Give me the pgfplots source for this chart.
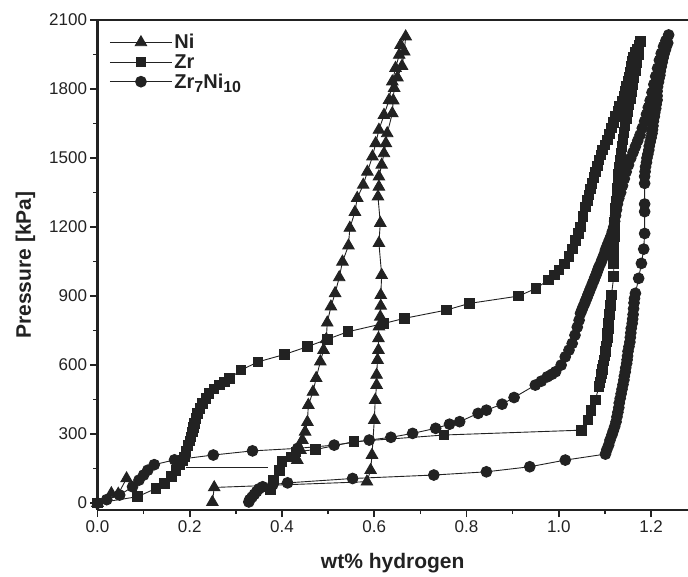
\documentclass[border=0pt]{standalone}
\usepackage{fontspec}
\setmainfont{Liberation Sans}
\usepackage{pgfplots}
\pgfplotsset{compat=1.18}
\definecolor{ink}{HTML}{222222}
\begin{document}
\begin{tikzpicture}
\begin{axis}[
  scale only axis, width=590.5pt, height=490pt,
  xmin=0, xmax=1.28, ymin=-30, ymax=2100,
  axis x line*=box, axis y line*=left,
  axis line style={line width=2.2pt, color=ink},
  xtick={0,0.2,0.4,0.6,0.8,1.0,1.2},
  ytick={0,300,600,900,1200,1500,1800,2100},
  minor x tick num=1, minor y tick num=1,
  xtick pos=bottom, ytick pos=left,
  tick align=outside,
  major tick length=7pt, minor tick length=4pt,
  every tick/.style={line width=1.6pt, color=ink},
  xticklabel style={/pgf/number format/.cd, fixed, fixed zerofill, precision=1},
  yticklabel style={/pgf/number format/.cd, fixed, 1000 sep={}},
  /pgf/number format/assume math mode=true,
  ticklabel style={font=\fontsize{17}{20}\selectfont, color=ink},
  xlabel={wt\% hydrogen}, ylabel={Pressure [kPa]},
  label style={font=\fontsize{21}{24}\selectfont\bfseries, color=ink},
  x label style={at={(axis description cs:0.5,-0.108)}, anchor=center},
  y label style={at={(axis description cs:-0.122,0.5)}, anchor=center},
  legend style={draw=none, fill=none, at={(axis description cs:0.02,0.975)}, anchor=north west,
    font=\fontsize{20}{22}\selectfont\bfseries, row sep=0pt, inner sep=0pt, text=ink},
  legend cell align=left,
  legend image code/.code={\draw[mark repeat=2,mark phase=2,#1] plot coordinates {(0pt,0pt) (31pt,0pt) (62pt,0pt)};},
  unbounded coords=jump,
  clip=false,
]
\coordinate (O) at (rel axis cs:0,0);
% Ni
\addplot[color=ink, line width=0.9pt, mark=triangle*, mark size=6.6pt, mark options={solid, fill=ink, draw=ink}] coordinates {
(0,0) (0.03,42) (0.045,40) (0.063,107) (nan,nan)
(0.433,187) (0.44,230) (0.444,274) (0.45,310) (0.455,352) (0.457,426) (0.467,483) (0.474,543)
(0.483,615) (0.49,665) (0.496,712) (0.498,784) (0.506,854) (0.515,912) (0.524,981) (0.531,1049)
(0.544,1119) (0.547,1196) (0.558,1265) (0.563,1326) (0.576,1383) (0.585,1440) (0.596,1506)
(0.603,1564) (0.610,1622) (0.621,1687) (0.632,1752) (0.639,1832) (0.646,1891) (0.654,1948)
(0.657,1991) (0.668,2028)
(0.665,1962) (0.660,1900) (0.650,1850) (0.643,1804) (0.641,1750) (0.639,1694) (0.628,1607)
(0.625,1564) (0.621,1520) (0.616,1470) (0.610,1419) (0.610,1375) (0.608,1332) (0.613,1217)
(0.610,1130) (0.616,991) (0.614,904) (0.614,857) (0.613,810) (0.610,767) (0.609,716)
(0.609,665) (0.607,622) (0.605,557) (0.605,513) (0.602,448) (0.600,361) (0.595,209)
(0.592,143) (0.584,93) (0.253,68) (0.249,4)
};
\addlegendentry{Ni}
% Zr
\addplot[color=ink, line width=0.9pt, mark=square*, mark size=4.8pt, mark options={solid, fill=ink, draw=ink}] coordinates {
(0,0) (0.087,28) (0.127,64) (0.145,86) (0.160,115) (0.170,143) (0.178,165) (0.185,185)
(0.188,201) (0.192,225) (0.196,250) (0.200,270) (0.203,288) (0.206,310) (0.208,328)
(0.210,346) (0.213,368) (0.217,390) (0.222,412) (0.228,433) (0.235,455) (0.242,477)
(0.252,497) (0.264,513) (0.275,527) (0.286,542) (0.311,578) (0.348,614) (0.405,646)
(0.455,680) (0.498,712) (0.543,745) (0.621,781) (0.665,803) (0.756,839) (0.806,868)
(0.913,900) (0.950,933) (0.978,970) (0.990,992) (1.000,1013) (1.012,1040) (1.022,1071) (1.030,1105)
(1.036,1143) (1.042,1172) (1.047,1201) (1.052,1245) (1.058,1288) (1.062,1315) (1.065,1340) (1.069,1365) (1.072,1390)
(1.076,1415) (1.080,1440) (1.084,1465) (1.087,1491) (1.091,1513) (1.095,1535) (1.100,1556) (1.105,1578) (1.110,1605) (1.114,1630)
(1.119,1655) (1.123,1680) (1.128,1703) (1.132,1725) (1.137,1746) (1.141,1767) (1.144,1790) (1.147,1810) (1.150,1832) (1.152,1853)
(1.155,1875) (1.157,1897) (1.160,1920) (1.162,1940) (1.166,1958) (1.170,1975) (1.174,1992) (1.177,2006)
(1.174,1975) (1.172,1950) (1.169,1915) (1.166,1880) (1.163,1850) (1.160,1820) (1.157,1790) (1.155,1760) (1.152,1730) (1.149,1700) (1.146,1670) (1.143,1640) (1.141,1610) (1.139,1580)
(1.137,1550) (1.135,1520) (1.133,1490) (1.131,1460) (1.129,1430) (1.128,1400) (1.127,1370) (1.126,1340) (1.124,1310) (1.123,1280) (1.122,1250) (1.121,1220) (1.120,1190) (1.120,1160)
(1.119,1130) (1.119,1100) (1.119,1070) (1.119,1040) (1.119,984) (1.114,904) (1.113,880) (1.112,860) (1.111,840) (1.110,820) (1.109,800) (1.108,780)
(1.107,760) (1.106,740) (1.105,720) (1.104,700) (1.102,680) (1.101,660) (1.100,640) (1.098,620) (1.096,600) (1.095,580) (1.093,562) (1.091,545) (1.089,525) (1.087,506)
(1.079,448) (1.070,404) (1.063,361) (1.049,317) (0.751,296) (0.556,267) (0.473,233)
(0.430,223) (0.419,201) (0.400,180) (0.394,143) (0.382,100) (0.375,60)
};
\addlegendentry{Zr}
% Zr7Ni10
\addplot[color=ink, line width=0.9pt, mark=*, mark size=5.4pt, mark options={solid, fill=ink, draw=ink}] coordinates {
(0,0) (0.020,15) (0.048,35) (0.076,71) (0.090,100) (0.100,122) (0.109,143) (0.123,167)
(0.167,188) (0.251,209) (0.336,227) (0.434,238) (0.513,252) (0.589,274) (0.636,286)
(0.683,303) (0.733,325) (0.763,343) (0.785,354) (0.825,390) (0.843,404) (0.877,430)
(0.903,459) (0.949,513) (0.962,530) (0.975,549) (0.985,560) (0.993,571) (1.005,600)
(1.014,636) (1.022,665) (1.029,694) (1.035,730) (1.040,765) (1.044,795) (1.047,825) (1.050,840) (1.053,855)
(1.056,868) (1.058,880) (1.061,893) (1.063,905) (1.066,918) (1.068,930) (1.071,943) (1.073,955) (1.076,968) (1.078,980) (1.081,993) (1.083,1005) (1.085,1016) (1.087,1027)
(1.091,1044) (1.094,1060) (1.098,1080) (1.101,1100) (1.104,1115) (1.107,1130) (1.110,1145) (1.113,1160) (1.116,1180) (1.119,1200) (1.121,1225) (1.123,1250) (1.125,1275) (1.127,1300)
(1.130,1325) (1.134,1350) (1.138,1380) (1.142,1410) (1.146,1440) (1.151,1470) (1.156,1500) (1.161,1525) (1.166,1550) (1.171,1575) (1.176,1600) (1.181,1630) (1.186,1660) (1.190,1690)
(1.194,1720) (1.198,1750) (1.202,1785) (1.206,1820) (1.210,1855) (1.214,1890) (1.218,1925) (1.222,1955) (1.227,1985) (1.232,2010) (1.238,2035)
(1.236,2000) (1.233,1985) (1.231,1970) (1.228,1952) (1.226,1935) (1.224,1916) (1.222,1897) (1.220,1878) (1.219,1860) (1.217,1845) (1.216,1830) (1.214,1810) (1.213,1790)
(1.213,1770) (1.213,1752) (1.211,1733) (1.210,1715) (1.208,1697) (1.207,1680) (1.205,1660) (1.204,1640) (1.203,1623) (1.202,1607) (1.200,1588) (1.198,1570) (1.196,1552) (1.195,1535)
(1.193,1517) (1.191,1500) (1.190,1481) (1.188,1462) (1.187,1441) (1.186,1420) (1.186,1390) (1.186,1300) (1.186,1267) (1.186,1172)
(1.184,1104) (1.179,1042) (1.173,977) (1.166,912) (1.164,890) (1.163,870) (1.162,845) (1.161,820) (1.160,800) (1.159,781) (1.157,760)
(1.156,740) (1.155,720) (1.154,700) (1.152,680) (1.150,660) (1.149,640) (1.148,623) (1.147,607) (1.145,588) (1.144,570) (1.142,552) (1.141,535)
(1.139,515) (1.137,495) (1.135,475) (1.133,455) (1.131,435) (1.130,415) (1.128,395) (1.126,375) (1.124,353) (1.121,332) (1.118,314) (1.115,296) (1.111,274) (1.108,252)
(1.104,232) (1.101,213) (1.014,187) (0.937,158) (0.843,136) (0.729,122) (0.553,107) (0.412,88)
(0.380,80) (0.358,71) (0.350,62) (0.345,50) (0.340,38) (0.335,26) (0.330,15) (0.328,5)
};
\addlegendentry{Zr\raisebox{-0.4ex}{\fontsize{16}{16}\selectfont\bfseries 7}Ni\raisebox{-0.4ex}{\fontsize{16}{16}\selectfont\bfseries 10}}
% connecting line without markers
\addplot[forget plot, color=ink, line width=0.9pt] coordinates {(0.192,155) (0.369,155)};
\end{axis}
\pgfresetboundingbox
\useasboundingbox (O) ++(-97.5pt,-66pt) rectangle ++(688pt,576pt);
\end{tikzpicture}
\end{document}
